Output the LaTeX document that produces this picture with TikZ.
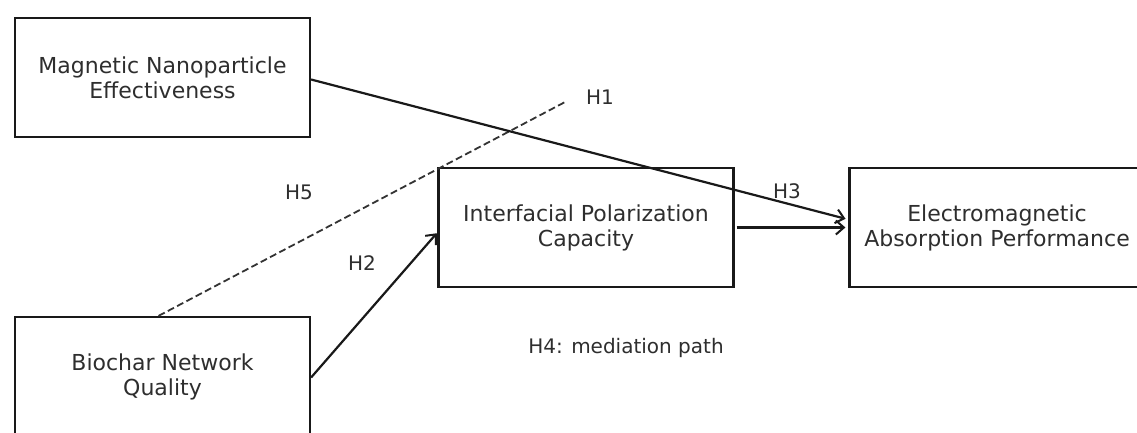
\documentclass[tikz,border=0pt]{standalone}
\usepackage{fontspec}
\setmainfont{DejaVu Sans}
\usetikzlibrary{arrows.meta}
\begin{document}
\begin{tikzpicture}[x=1pt,y=-1pt,
  box/.style={draw=black!90, line width=2.2pt, minimum width=295pt, minimum height=119pt,
    align=center, inner sep=0pt, font=\fontsize{22}{25}\selectfont, text=black!82},
  lbl/.style={font=\fontsize{20}{23}\selectfont, text=black!82},
  conn/.style={draw=black!90, line width=2.2pt, -{Straight Barb[length=8pt,width=14pt,line width=2pt]}},
  hyp/.style={draw=black!80, line width=1.8pt, dash pattern=on 7pt off 3.5pt}]
\useasboundingbox (0,0) rectangle (1137,432);
\fill[white] (0,0) rectangle (1137,432);
\node[box] (m) at (162.5,77.5) {Magnetic Nanoparticle\\Effectiveness};
\node[box] (i) at (586,227.5) {Interfacial Polarization\\Capacity};
\node[box] (e) at (997,227.5) {Electromagnetic\\Absorption Performance};
\node[box] (b) at (162.5,376.5) {Biochar Network\\Quality};
\coordinate (h1end) at (567,101);
\draw[hyp] ([xshift=-4pt]b.north) -- (h1end);
\draw[conn, shorten >=3pt] ([yshift=-2pt]m.east) -- ([yshift=8pt]e.west);
\draw[conn, shorten >=3pt, shorten <=2pt] (i.east) -- (e.west);
\draw[conn, shorten >=1pt] ([yshift=-1pt]b.east) -- ([yshift=-5pt]i.west);
\node[lbl] (l1) at (600,97) {H1};
\node[lbl] (l5) at (299,192) {H5};
\node[lbl] (l2) at (362,263) {H2};
\node[lbl] (l3) at (787,191) {H3};
\node[lbl] (l4) at (626,348) {H4: mediation path};
\end{tikzpicture}
\end{document}
